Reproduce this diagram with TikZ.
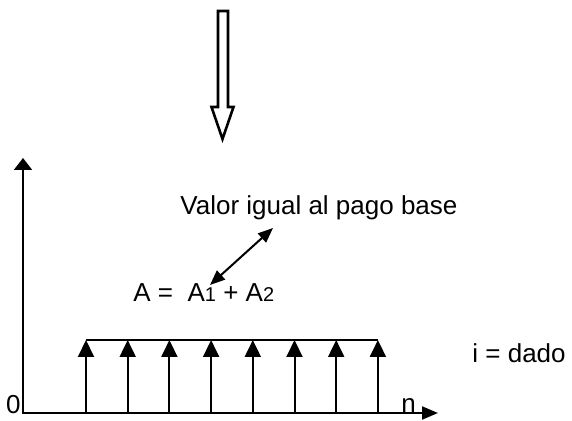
\documentclass[tikz,border=0pt]{standalone}
\usepackage{fontspec}
\setmainfont{Liberation Sans}
\usepackage{tikz}
\usetikzlibrary{arrows.meta, positioning}

\tikzset{
  axis/.style={line width=1pt, {Triangle[length=6pt,width=9pt]}-{Triangle[length=8pt,width=6.5pt]}},
  pay/.style={line width=1pt, -{Triangle[length=8.5pt,width=8pt]}},
  link/.style={line width=1pt, {Triangle[length=7.5pt,width=6pt]}-{Triangle[length=7.5pt,width=6pt]}},
  hollow/.style={line width=1.3pt, line join=miter},
  lbl/.style={font=\fontsize{13}{15}\selectfont, inner sep=0pt},
}

\begin{document}
\begin{tikzpicture}[x=0.5pt, y=-0.5pt]
  \useasboundingbox (0,0) rectangle (572,421);
  \draw[hollow] (218,11) -- (228,11) -- (228,107) -- (233.5,107) -- (222.5,139)
    -- (211.5,107) -- (218,107) -- cycle;
  \coordinate (o) at (23,413);
  \coordinate (ytip) at (23,158);
  \coordinate (xtip) at (438,413);
  \draw[axis] (ytip) -- (o) -- (xtip);
  \node[lbl, anchor=base east] (zero) at (21,414) {0};
  \node[lbl, anchor=base west] (nlab) at (401,413) {n};
  \foreach \k [evaluate=\k as \x using 86+41.7*\k] in {0,...,7} {
    \coordinate (b\k) at (\x,413);
    \coordinate (t\k) at (\x,340);
    \draw[pay] (b\k) -- (t\k);
  }
  \draw[line width=1pt] (t0) -- (t7);
  \node[lbl, anchor=base west] (eq) at (133,302)
    {A =\ \ A{\fontsize{10}{12}\selectfont 1} + A{\fontsize{10}{12}\selectfont 2}};
  \node[lbl, anchor=base west] (valor) at (180,215) {Valor igual al pago base};
  \node[lbl, anchor=base west] (tasa) at (472,363) {i = dado};
  \coordinate (m1) at (210,285);
  \coordinate (m2) at (273,228);
  \draw[link] (m1) -- (m2);
\end{tikzpicture}
\end{document}
